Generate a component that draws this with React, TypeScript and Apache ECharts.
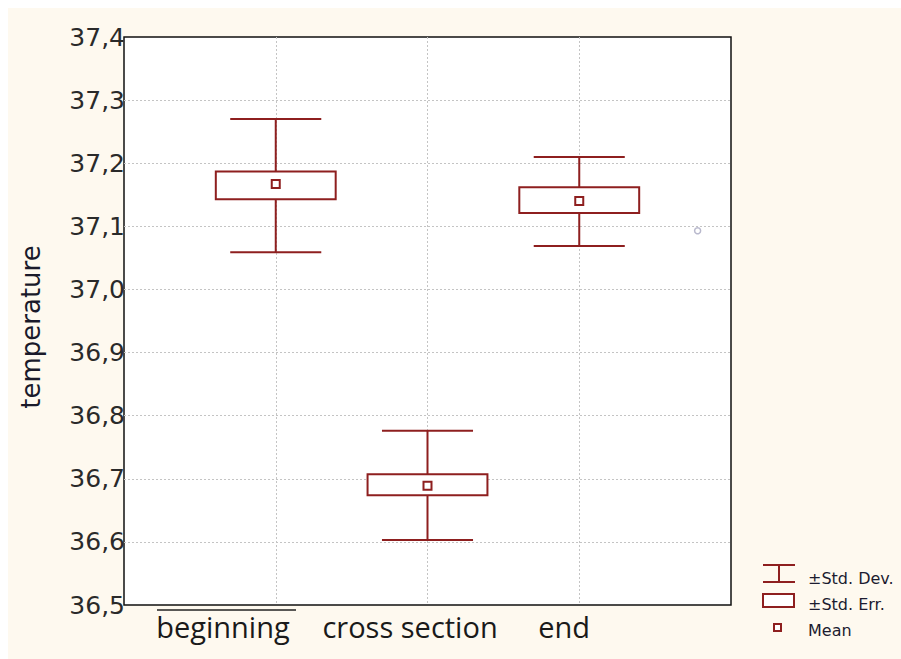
import React, { useEffect, useRef } from "react";
import * as echarts from "echarts";

const categories = ["beginning", "cross section", "end"];
const categoryPos = [1, 2, 3];
const labelPos = [0.652, 1.885, 2.9];
const means = [37.167, 36.689, 37.14];
const seLow = [37.143, 36.674, 37.121];
const seHigh = [37.187, 36.707, 37.162];
const sdLow = [37.059, 36.603, 37.069];
const sdHigh = [37.27, 36.776, 37.21];
const strayPoint = [[3.78, 37.093]];
const yTicks = [36.5, 36.6, 36.7, 36.8, 36.9, 37.0, 37.1, 37.2, 37.3, 37.4];
const legendLabels = ["±Std. Dev.", "±Std. Err.", "Mean"];

const RED = "#8e1f1f";
const GRID = { color: "#c4c4c4", type: [2, 2], width: 1 };

export default function App() {
  const ref = useRef<HTMLDivElement>(null);
  useEffect(() => {
    document.body.style.overflow = "hidden";
    if (!ref.current) return;
    const chart = echarts.init(ref.current, null, { renderer: "svg" });
    const rows = categoryPos.map((x, i) => [x, means[i], seLow[i], seHigh[i], sdLow[i], sdHigh[i]]);
    const legendFont = "16px 'DejaVu Sans'";
    const option: any = {
      animation: false,
      backgroundColor: "#fef9ef",
      grid: { left: 116, top: 29, width: 607, height: 568, show: true, backgroundColor: "#ffffff", borderColor: "#111", borderWidth: 1.5 },
      xAxis: [
        {
          type: "value",
          min: 0,
          max: 4,
          interval: 1,
          axisLine: { show: false },
          axisTick: { show: false },
          axisLabel: { show: false },
          splitLine: { show: true, showMinLine: false, showMaxLine: false, lineStyle: GRID },
        },
        {
          type: "value",
          min: 0,
          max: 4,
          position: "bottom",
          axisLine: { show: false },
          axisTick: { show: false },
          splitLine: { show: false },
          axisLabel: {
            customValues: labelPos,
            fontFamily: "Open Sans",
            fontSize: 29,
            color: "#1a1a1a",
            margin: 7,
            formatter: (v: number) => {
              const idx = labelPos.findIndex((p) => Math.abs(p - v) < 1e-6);
              return idx >= 0 ? categories[idx] : "";
            },
          },
        },
      ],
      yAxis: {
        type: "value",
        min: 36.5,
        max: 37.4,
        interval: 0.1,
        name: "temperature",
        nameLocation: "middle",
        nameGap: 80,
        nameTextStyle: { fontFamily: "DejaVu Sans", fontSize: 26, color: "#1a1a2a", padding: [0, 0, 0, -12] },
        axisLine: { show: false },
        axisTick: { show: false },
        splitLine: { show: true, showMinLine: false, showMaxLine: false, lineStyle: GRID },
        axisLabel: {
          fontFamily: "DejaVu Sans",
          fontSize: 25,
          color: "#2a2a2a",
          margin: -1,
          formatter: (v: number) => {
            const t = yTicks.find((k) => Math.abs(k - v) < 1e-6);
            return t !== undefined ? t.toFixed(1).replace(".", ",") : "";
          },
        },
      },
      series: [
        {
          type: "custom",
          data: rows,
          xAxisIndex: 0,
          encode: { x: 0, y: [1, 2, 3, 4, 5] },
          renderItem: (params: any, api: any) => {
            const x = api.value(0);
            const m = api.coord([x, api.value(1)]);
            const seL = api.coord([x, api.value(2)]);
            const seH = api.coord([x, api.value(3)]);
            const sdL = api.coord([x, api.value(4)]);
            const sdH = api.coord([x, api.value(5)]);
            const boxHalf = api.size([0.395, 0])[0];
            const capHalf = api.size([0.3, 0])[0];
            const cx = m[0];
            const st = { stroke: RED, lineWidth: 2, fill: "none" };
            return {
              type: "group",
              children: [
                { type: "line", shape: { x1: cx, y1: sdH[1], x2: cx, y2: seH[1] }, style: st },
                { type: "line", shape: { x1: cx, y1: seL[1], x2: cx, y2: sdL[1] }, style: st },
                { type: "line", shape: { x1: cx - capHalf, y1: sdH[1], x2: cx + capHalf, y2: sdH[1] }, style: st },
                { type: "line", shape: { x1: cx - capHalf, y1: sdL[1], x2: cx + capHalf, y2: sdL[1] }, style: st },
                { type: "rect", shape: { x: cx - boxHalf, y: seH[1], width: boxHalf * 2, height: seL[1] - seH[1] }, style: { stroke: RED, lineWidth: 2, fill: "#ffffff" } },
                { type: "rect", shape: { x: cx - 4, y: m[1] - 4, width: 8, height: 8 }, style: { stroke: RED, lineWidth: 2, fill: "#ffffff" } },
              ],
            };
          },
          z: 3,
        },
        {
          type: "scatter",
          xAxisIndex: 0,
          data: strayPoint,
          symbol: "circle",
          symbolSize: 6,
          itemStyle: { color: "#ffffff", borderColor: "#a8a8c0", borderWidth: 1.5 },
          z: 2,
        },
      ],
      graphic: [
        { type: "line", shape: { x1: 149, y1: 602, x2: 288, y2: 602 }, style: { stroke: "#222", lineWidth: 1.5 } },
        { type: "line", shape: { x1: 755, y1: 557, x2: 787, y2: 557 }, style: { stroke: RED, lineWidth: 2 } },
        { type: "line", shape: { x1: 755, y1: 574, x2: 787, y2: 574 }, style: { stroke: RED, lineWidth: 2 } },
        { type: "line", shape: { x1: 771, y1: 557, x2: 771, y2: 574 }, style: { stroke: RED, lineWidth: 2 } },
        { type: "rect", shape: { x: 755, y: 586, width: 31, height: 13 }, style: { stroke: RED, lineWidth: 2, fill: "#ffffff" } },
        { type: "rect", shape: { x: 766, y: 616, width: 7, height: 7 }, style: { stroke: RED, lineWidth: 2, fill: "#ffffff" } },
        { type: "text", x: 800, y: 570, style: { text: legendLabels[0], font: legendFont, fill: "#1c1c30", verticalAlign: "middle" } },
        { type: "text", x: 800, y: 596, style: { text: legendLabels[1], font: legendFont, fill: "#1c1c30", verticalAlign: "middle" } },
        { type: "text", x: 800, y: 622, style: { text: legendLabels[2], font: legendFont, fill: "#1c1c30", verticalAlign: "middle" } },
      ],
    };
    chart.setOption(option);
    return () => chart.dispose();
  }, []);
  return <div ref={ref} style={{ position: "fixed", left: 8, top: 8, width: 920, height: 670 }} />;
}
